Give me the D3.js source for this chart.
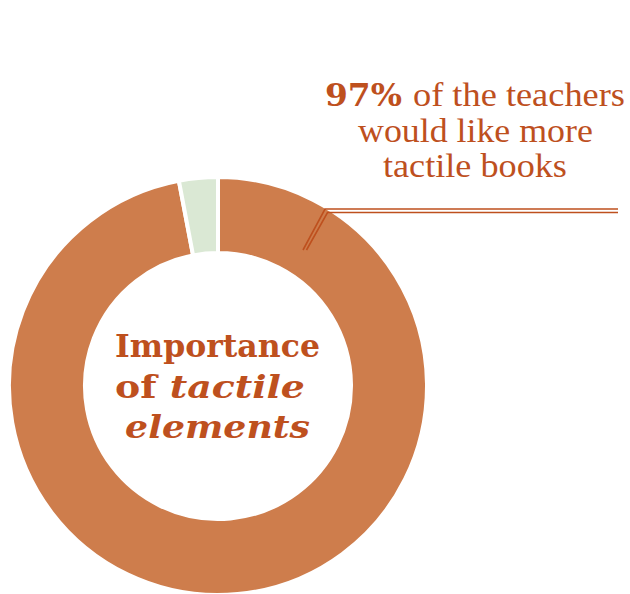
<!DOCTYPE html>
<html>
<head>
<meta charset="utf-8">
<script src="https://cdn.jsdelivr.net/npm/d3@7"></script>
<style>
  body { margin: 0; background: #ffffff; }
  svg { display: block; }
</style>
</head>
<body>
<div id="chart"></div>
<script>
// answers from the teachers survey
var categories = ["Would like more tactile books", "Other answers"];
var values = [97, 3];
var sliceColors = ["#CE7D4C", "#DAE8D4"];

// centre label, one entry per line: [upright part, italic part]
var titleLines = [["Importance", ""], ["of ", "tactile"], ["", "elements"]];

// callout text
var calloutBold = "97%";
var calloutLines = ["of the teachers", "would like more", "tactile books"];

var width = 630, height = 594;
var textColor = "#BE501E";

var svg = d3.select("#chart").append("svg")
    .attr("width", width)
    .attr("height", height);

// donut geometry
var cx = 218, cy = 386;
var outerR = 209, innerR = 133;

var pie = d3.pie().sort(null).value(function(d) { return d; });
var arc = d3.arc().innerRadius(innerR).outerRadius(outerR);

var g = svg.append("g").attr("transform", "translate(" + cx + "," + cy + ")");

g.selectAll(".slice")
    .data(pie(values))
    .enter()
    .append("path")
    .attr("class", "slice")
    .attr("d", arc)
    .attr("fill", function(d, i) { return sliceColors[i]; })
    .attr("stroke", "#ffffff")
    .attr("stroke-width", 4);

// squeeze a text element horizontally so it covers the wanted width
function fitWidth(sel, x0, target)
{
    var w = sel.node().getBBox().width;
    var s = target / w;
    sel.attr("transform", "translate(" + x0 + ",0) scale(" + s + ",1) translate(" + (-x0) + ",0)");
}

// centre title
var titleBase = [357, 398, 438];
var titleWidth = [205, 190, 185];
var titleMid = [217.5, 210, 217.5];
titleLines.forEach(function(line, i)
{
    var t = svg.append("text")
        .attr("x", titleMid[i])
        .attr("y", titleBase[i])
        .attr("text-anchor", "middle")
        .style("font-family", "'DejaVu Serif', serif")
        .style("font-weight", "bold")
        .style("font-size", "32px")
        .style("fill", textColor);
    if (line[0]) t.append("tspan").text(line[0]);
    if (line[1]) t.append("tspan").style("font-style", "italic").text(line[1]);
    fitWidth(t, titleMid[i], titleWidth[i]);
});

// callout text
var bold = svg.append("text")
    .attr("x", 325)
    .attr("y", 106)
    .style("font-family", "'DejaVu Serif', serif")
    .style("font-weight", "bold")
    .style("font-size", "32px")
    .style("fill", textColor)
    .text(calloutBold);
fitWidth(bold, 325, 77);

var lineStart = [413, 358, 383];
var lineWidth = [212, 235, 184];
var lineBase = [106, 142, 177];
calloutLines.forEach(function(s, i)
{
    var t = svg.append("text")
        .attr("x", lineStart[i])
        .attr("y", lineBase[i])
        .style("font-family", "'Liberation Serif', serif")
        .style("font-size", "33px")
        .style("fill", textColor)
        .text(s);
    fitWidth(t, lineStart[i], lineWidth[i]);
});

// double leader line
var leaders = [
    [[303, 250], [325, 209], [618, 209]],
    [[306.5, 250], [327.5, 212.5], [618, 212.5]]
];
svg.selectAll(".leader")
    .data(leaders)
    .enter()
    .append("path")
    .attr("class", "leader")
    .attr("d", d3.line())
    .attr("fill", "none")
    .attr("stroke", textColor)
    .attr("stroke-width", 1.6);
</script>
</body>
</html>
